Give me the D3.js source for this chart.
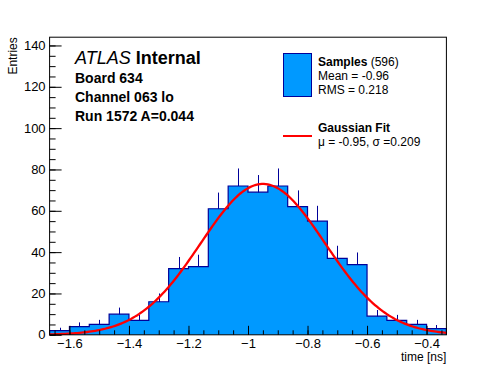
<!DOCTYPE html>
<html>
<head>
<meta charset="utf-8">
<script src="https://cdn.jsdelivr.net/npm/d3@7"></script>
<style>
  body { margin: 0; background: #fff; }
  svg { display: block; font-family: "Liberation Sans", Arial, Helvetica, sans-serif; }
</style>
</head>
<body>
<svg></svg>
<script>
// histogram: 20 bins of 1/15 ns between -5/3 and -1/3
const binLow = -5 / 3;
const binWidth = 1 / 15;
const counts = [2, 4, 5, 10, 7, 16, 32, 33, 61, 72, 69, 72, 62, 55, 37, 34, 9, 7, 5, 3];

// gaussian fit parameters (as printed in the legend)
const fitMu = -0.95;
const fitSigma = 0.209;
const fitAmp = 73;

const xTicks = [-1.6, -1.4, -1.2, -1.0, -0.8, -0.6, -0.4];
const yTicks = [0, 20, 40, 60, 80, 100, 120, 140];

function histo () {
    const width = 496;
    const height = 372;
    const marginTop = 37.2;
    const marginRight = 49.6;
    const marginBottom = 37.2;
    const marginLeft = 49.6;
    const blue = "#0099ff";
    const navy = "#000099";

    const xMin = binLow, xMax = binLow + counts.length * binWidth;

    const x = d3.scaleLinear()
        .domain([xMin, xMax])
        .range([marginLeft, width - marginRight]);

    // ROOT style: maximum set to twice the highest bin
    const y = d3.scaleLinear()
        .domain([0, 2 * d3.max(counts)])
        .range([height - marginBottom, marginTop]);

    const svg = d3.select("svg")
        .attr("width", width)
        .attr("height", height)
        .attr("viewBox", [0, 0, width, height]);

    // error bars (lower half gets hidden under the fill)
    const bins = counts.map((n, i) => ({lo: xMin + i * binWidth, hi: xMin + (i + 1) * binWidth, n}));

    svg.append("g")
        .attr("stroke", navy)
        .attr("stroke-width", 1)
      .selectAll("line")
      .data(bins)
      .join("line")
        .attr("x1", d => Math.round(x((d.lo + d.hi) / 2)) + 0.5)
        .attr("x2", d => Math.round(x((d.lo + d.hi) / 2)) + 0.5)
        .attr("y1", d => y(Math.max(0, d.n - Math.sqrt(d.n))))
        .attr("y2", d => y(d.n + Math.sqrt(d.n)));

    // step outline of the histogram
    const pts = [[xMin, 0]];
    bins.forEach(d => { pts.push([d.lo, d.n]); pts.push([d.hi, d.n]); });
    pts.push([xMax, 0]);

    svg.append("path")
        .datum(pts)
        .attr("fill", blue)
        .attr("stroke", navy)
        .attr("stroke-width", 1.2)
        .attr("d", d3.line().x(d => x(d[0])).y(d => y(d[1])));

    // fit curve
    const gaus = t => fitAmp * Math.exp(-0.5 * ((t - fitMu) / fitSigma) ** 2);
    const fx = d3.range(xMin, xMax + 1e-9, (xMax - xMin) / 200);
    svg.append("path")
        .datum(fx)
        .attr("fill", "none")
        .attr("stroke", "#ff0000")
        .attr("stroke-width", 2.3)
        .attr("d", d3.line().x(d => x(d)).y(d => y(gaus(d))));

    // axes, ticks point inward
    const minorX = d3.range(-1.65, xMax, 0.05);
    const minorY = d3.range(0, y.domain()[1], 5);

    svg.append("g")
        .attr("transform", `translate(0,${height - marginBottom})`)
        .call(d3.axisBottom(x).tickValues(minorX).tickSize(-4.5).tickFormat(""))
        .call(g => g.select(".domain").remove());
    svg.append("g")
        .attr("transform", `translate(0,${height - marginBottom})`)
        .call(d3.axisBottom(x).tickValues(xTicks).tickSize(-9).tickPadding(4).tickFormat(d3.format("~g")))
        .call(g => g.select(".domain").remove())
        .call(g => g.selectAll("text").attr("font-size", 13).attr("font-family", null).attr("fill", "#000"));

    svg.append("g")
        .attr("transform", `translate(${marginLeft},0)`)
        .call(d3.axisLeft(y).tickValues(minorY).tickSize(-6).tickFormat(""))
        .call(g => g.select(".domain").remove());
    svg.append("g")
        .attr("transform", `translate(${marginLeft},0)`)
        .call(d3.axisLeft(y).tickValues(yTicks).tickSize(-12).tickPadding(4))
        .call(g => g.select(".domain").remove())
        .call(g => g.selectAll("text").attr("font-size", 13).attr("font-family", null).attr("fill", "#000"));

    svg.selectAll(".tick line").attr("stroke", "#000");

    // frame
    svg.append("rect")
        .attr("x", marginLeft).attr("y", marginTop)
        .attr("width", width - marginLeft - marginRight)
        .attr("height", height - marginTop - marginBottom)
        .attr("fill", "none").attr("stroke", "#000");

    // axis titles
    svg.append("text")
        .attr("x", width - marginRight).attr("y", 361)
        .attr("text-anchor", "end").attr("font-size", 12)
        .text("time [ns]");
    svg.append("text")
        .attr("transform", `translate(17,${marginTop}) rotate(-90)`)
        .attr("text-anchor", "end").attr("font-size", 12)
        .text("Entries");

    // ATLAS labels
    const lab = svg.append("g").attr("transform", "translate(75,0)");
    const t1 = lab.append("text").attr("y", 64).attr("font-size", 18);
    t1.append("tspan").attr("font-style", "italic").text("ATLAS");
    t1.append("tspan").attr("font-weight", "bold").text(" Internal");
    ["Board 634", "Channel 063 lo", "Run 1572 A=0.044"].forEach((s, i) =>
        lab.append("text").attr("y", 83 + i * 19).attr("font-size", 14)
            .attr("font-weight", "bold").text(s));

    // legend
    const leg = svg.append("g").attr("font-size", 12);
    leg.append("rect")
        .attr("x", 283.5).attr("y", 53.5).attr("width", 28).attr("height", 43)
        .attr("fill", blue).attr("stroke", navy);
    const s1 = leg.append("text").attr("x", 318).attr("y", 66);
    s1.append("tspan").attr("font-weight", "bold").text("Samples");
    s1.append("tspan").text(` (${d3.sum(counts) + 1})`);
    leg.append("text").attr("x", 318).attr("y", 80).text("Mean = -0.96");
    leg.append("text").attr("x", 318).attr("y", 94).text("RMS = 0.218");

    leg.append("line")
        .attr("x1", 283).attr("x2", 312).attr("y1", 136).attr("y2", 136)
        .attr("stroke", "#ff0000").attr("stroke-width", 2);
    leg.append("text").attr("x", 318).attr("y", 132)
        .attr("font-weight", "bold").text("Gaussian Fit");
    leg.append("text").attr("x", 318).attr("y", 146)
        .text(`μ = ${fitMu}, σ =${fitSigma}`);

    return svg.node();
}

histo();
</script>
</body>
</html>
